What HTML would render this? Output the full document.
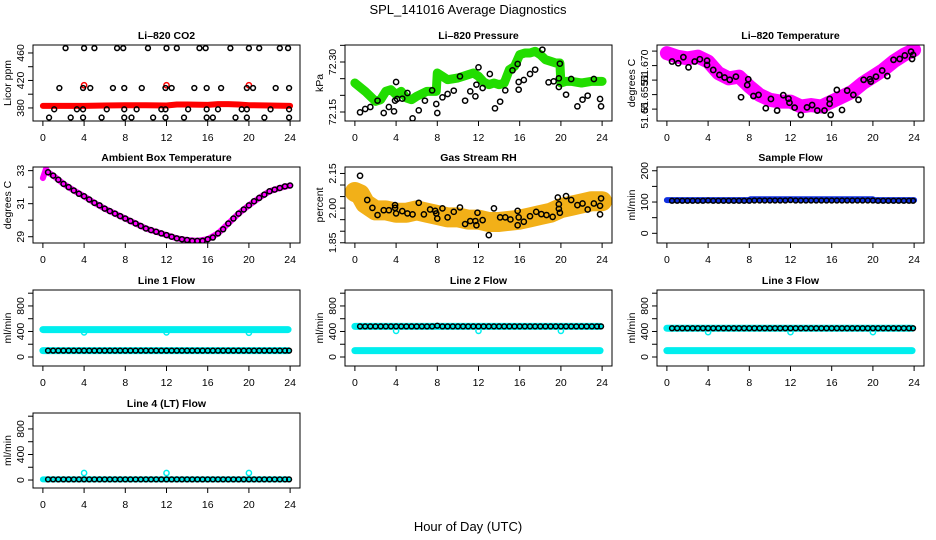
<!DOCTYPE html>
<html><head><meta charset="utf-8"><style>
html,body{margin:0;padding:0;background:#fff;}
svg{display:block;font-family:"Liberation Sans",sans-serif;}
</style></head><body>
<svg id="chart" width="936" height="540" viewBox="0 0 936 540" xmlns="http://www.w3.org/2000/svg">
<rect x="0" y="0" width="936" height="540" fill="#fff"/>
<text x="468" y="14" font-size="13" text-anchor="middle">SPL_141016  Average Diagnostics</text>
<text x="468" y="531" font-size="13" text-anchor="middle">Hour of Day (UTC)</text>
</svg>
<script>
// ---------- data ----------
const xTicks = [0,4,8,12,16,20,24];
// CO2
const co2BandHours = [0,2,4,6,8,10,12,13,14,16,17,18,19,20,22,24];
const co2BandVals  = [383,383,383,383.5,384,384,383.5,385,385,384.5,385.5,385.5,385,384,383.5,383];
const co2RedHours = [4,12,20];
const co2RedVals = [413,413,413];
const co2BlkHours = [2.2,4,5,7.2,7.8,10.2,12,13,15.2,15.8,18.2,20,21,23,23.8,
 1.6,3.9,4.6,6.8,7.9,9.6,11.9,12.5,14.7,15.9,17.3,19.8,20.4,22.6,23.9,
 1.1,3.3,3.9,6.2,7.9,9.1,11.5,11.9,14.1,15.9,17,19.3,19.8,22.1,23.9,
 0.6,2.7,3.9,5.7,7.9,8.6,10.7,11.9,13.7,15.9,16.5,18.7,19.8,21.5,23.9];
const co2BlkVals = [467,467,467,467,467,467,467,467,467,467,467,467,467,467,467,
 409,409,409,409,409,409,409,409,409,409,409,409,409,409,409,
 378,378,378,378,378,378,378,378,378,378,378,378,378,378,378,
 366,366,366,366,366,366,366,366,366,366,366,366,366,366,366];
// Pressure
const prGreenHours = [0,1,2,2.5,3,3.5,4,4.5,5,5.5,6,7,7.5,7.9,8,8.5,9,10,11,11.5,12,12.5,13,13.5,14,14.5,15,15.5,16,16.5,17,17.5,18,18.5,19,19.5,19.9,20,20.5,21,22,23,24];
const prGreenVals  = [72.237,72.212,72.182,72.187,72.212,72.217,72.202,72.212,72.192,72.187,72.197,72.212,72.212,72.212,72.267,72.257,72.247,72.252,72.262,72.267,72.257,72.240,72.232,72.237,72.232,72.237,72.277,72.287,72.322,72.327,72.327,72.332,72.322,72.307,72.302,72.297,72.297,72.237,72.242,72.242,72.237,72.242,72.242];
const prBlkHours = [0.5,1,1.5,2.2,2.8,3.3,3.8,3.9,4,4.1,4.6,5.1,5.6,6.2,6.8,7.5,7.9,8,8.5,9,9.6,10.2,10.7,11.2,11.7,11.8,12,12.4,13.1,13.6,14.1,14.6,15.3,15.8,15.9,15.9,16.4,17,17.5,18.2,18.8,19.3,19.8,19.8,19.9,20.5,21,21.6,22.1,22.6,23.2,23.8,23.9];
const prBlkVals = [72.149,72.159,72.165,72.184,72.147,72.165,72.152,72.184,72.240,72.189,72.190,72.207,72.131,72.155,72.184,72.215,72.174,72.147,72.194,72.204,72.214,72.257,72.184,72.212,72.197,72.232,72.284,72.222,72.264,72.161,72.181,72.215,72.275,72.294,72.240,72.217,72.246,72.264,72.277,72.337,72.239,72.242,72.225,72.251,72.295,72.202,72.249,72.167,72.187,72.199,72.249,72.189,72.167];
// Li-820 temperature
const ltMagHours = [0,1,2,3,4,5,6,7,8,9,10,11,12,13,14,15,16,17,18,19,20,21,22,23,24];
const ltMagVals = [51.6743,51.6731,51.6725,51.6731,51.6714,51.6674,51.6656,51.6662,51.6628,51.6599,51.6582,51.6576,51.6576,51.6559,51.6564,51.6559,51.6576,51.6593,51.6610,51.6639,51.6662,51.6685,51.6714,51.6737,51.6754];
const ltBlkHours = [0.5,1.1,1.6,2.1,2.7,3.2,3.9,3.9,4.5,5.1,5.6,6.1,6.7,7.2,7.8,7.9,8.4,8.9,9.6,10.1,10.7,11.3,11.8,11.9,12.4,13,13.6,14.1,14.6,15.3,15.8,15.8,15.9,16.5,17,17.5,18.1,18.6,19.1,19.7,19.8,20.3,20.9,21.4,22,22.6,23.1,23.7,23.8,23.9];
const ltBlkVals = [51.6714,51.6708,51.6729,51.6694,51.6714,51.6722,51.6717,51.6702,51.6685,51.6668,51.6659,51.6651,51.6662,51.6591,51.6633,51.6653,51.6595,51.6599,51.6553,51.6585,51.6545,51.6598,51.6586,51.6572,51.6555,51.6530,51.6556,51.6564,51.6545,51.6545,51.6585,51.6568,51.6530,51.6616,51.6547,51.6614,51.6599,51.6582,51.6651,51.6653,51.6645,51.6662,51.6683,51.6664,51.6720,51.6723,51.6735,51.6748,51.6723,51.6737];
const ltLabelVals = [51.6528,51.6593,51.6653,51.670];
const ltLabels = ['51.65','51.655','51','51.670'];
// Ambient box temp
const abMagHours = [0,0.3,0.5,1,2,3,4,5,6,7,8,9,10,11,12,13,14,15,16,17,18,19,20,21,22,23,24];
const abMagVals = [32.55,33.1,32.9,32.7,32.2,31.8,31.45,31.05,30.7,30.4,30.1,29.8,29.5,29.3,29.1,28.9,28.8,28.75,28.85,29.2,29.8,30.4,30.9,31.35,31.75,31.95,32.1];
const abBlkHours = [0.5,1,1.5,2,2.5,3,3.5,4,4.5,5,5.5,6,6.5,7,7.5,8,8.5,9,9.5,10,10.5,11,11.5,12,12.5,13,13.5,14,14.5,15,15.5,16,16.5,17,17.5,18,18.5,19,19.5,20,20.5,21,21.5,22,22.5,23,23.5,24];
const abBlkVals = [32.9,32.7,32.45,32.2,32.0,31.8,31.6,31.45,31.25,31.05,30.9,30.7,30.55,30.4,30.25,30.1,29.95,29.8,29.65,29.5,29.4,29.3,29.2,29.1,29.0,28.9,28.85,28.8,28.75,28.75,28.75,28.85,28.95,29.2,29.45,29.8,30.1,30.4,30.65,30.9,31.15,31.35,31.55,31.75,31.85,31.95,32.05,32.1];
// RH
const rhBandHours = [0,0.5,1,2,3,4,5,6,7,8,9,10,11,12,13,14,15,16,17,18,19,20,21,22,23,24];
const rhBandVals = [2.07,2.06,2.02,1.99,1.99,1.98,1.98,1.99,1.98,1.97,1.96,1.96,1.95,1.95,1.94,1.94,1.945,1.95,1.96,1.97,1.98,2.00,2.01,2.02,2.03,2.03];
const rhBlkHours = [0.5,1.2,1.7,2.2,2.8,3.3,3.9,3.9,4,4.6,5.1,5.6,6.2,6.7,7.3,7.8,7.9,8,8.5,9,9.6,10.2,10.7,11.2,11.7,11.8,11.9,12.4,13,13.5,14.1,14.6,15.1,15.8,15.8,15.9,16.4,17,17.6,18.1,18.6,19.2,19.7,19.8,19.8,19.9,20.5,21,21.6,22.1,22.6,23.2,23.8,23.8,23.9];
const rhBlkVals = [2.140,2.035,2.001,1.970,1.991,1.991,2.013,2.001,1.977,1.987,1.977,1.973,2.023,1.973,1.994,1.988,1.977,1.955,1.999,1.960,1.984,2.003,1.931,1.944,1.944,1.926,1.980,1.948,1.883,1.999,1.960,1.960,1.951,1.988,1.926,1.960,1.941,1.965,1.984,1.974,1.970,1.962,2.046,2.017,1.997,1.980,2.052,2.035,2.013,2.020,1.994,2.020,1.973,2.010,2.042];
// Sample flow
const sfBlueHours = [0,8,8.1,20,20.1,24];
const sfBlueVals = [106,106,109,109,106,106];
const sfBlkHours = [0.5,1,1.5,2,2.5,3,3.5,4,4.5,5,5.5,6,6.5,7,7.5,8,8.5,9,9.5,10,10.5,11,11.5,12,12.5,13,13.5,14,14.5,15,15.5,16,16.5,17,17.5,18,18.5,19,19.5,20,20.5,21,21.5,22,22.5,23,23.5,23.9];
const sfBlkVals = [104,104,104,104,104,104,104,105,104,104,104,104,104,104,104,104,105,105,105,105,105,105,105,106,105,105,105,105,105,105,105,105,105,105,105,105,105,105,105,105,104,104,104,104,104,104,104,104];
// Line flows (shared hours)
const flowCyanHours = [0,4,8,12,16,20,23.8];
const flowDipHours = [4,12,20];
const flowBlkHours = [0.5,1,1.5,2,2.5,3,3.5,4,4.5,5,5.5,6,6.5,7,7.5,8,8.5,9,9.5,10,10.5,11,11.5,12,12.5,13,13.5,14,14.5,15,15.5,16,16.5,17,17.5,18,18.5,19,19.5,20,20.5,21,21.5,22,22.5,23,23.5,23.9];
const l1CyanHi = [430,430,430,430,430,430,430];
const l1CyanLo = [100,100,100,100,100,100,100];
const l1Dip = [385,385,380];
const l1Blk = [100,100,100,100,100,100,100,100,100,100,100,100,100,100,100,100,100,100,100,100,100,100,100,100,100,100,100,100,100,100,100,100,100,100,100,100,100,100,100,100,100,100,100,100,100,100,100,100];
const l2CyanHi = [480,480,480,480,480,480,480];
const l2CyanLo = [100,100,100,100,100,100,100];
const l2Dip = [410,410,410];
const l2Blk = [480,480,480,480,480,480,480,480,480,480,480,480,480,480,480,490,480,480,480,480,480,480,480,480,480,480,480,480,480,480,480,480,480,480,480,480,480,480,480,480,480,480,480,480,480,480,480,480];
const l3CyanHi = [450,450,450,450,450,450,450];
const l3CyanLo = [100,100,100,100,100,100,100];
const l3Dip = [390,390,390];
const l3Blk = [450,450,450,450,450,450,450,450,450,450,450,450,450,450,450,450,450,450,450,450,450,450,450,450,450,450,450,450,450,450,450,450,450,450,450,450,450,450,450,450,450,450,450,450,450,450,450,450];
const l4Cyan = [10,10,10,10,10,10,10];
const l4Dip = [110,110,110];
const l4Blk = [10,10,10,10,10,10,10,10,10,10,10,10,10,10,10,10,10,10,10,10,10,10,10,10,10,10,10,10,10,10,10,10,10,10,10,10,10,10,10,10,10,10,10,10,10,10,10,10];

// ---------- drawing ----------
const NS = "http://www.w3.org/2000/svg";
const svg = document.getElementById('chart');
const cols = [[33,300],[345,612],[657,924]];
const rows = [[45,121],[167,243],[290,366],[413,488]];
function mk(tag, attrs, parent){const e=document.createElementNS(NS,tag);for(const k in attrs)e.setAttribute(k,attrs[k]);(parent||svg).appendChild(e);return e;}
let clipN=0;
function panel(name,c,r,title,ylab,ylim,yt,ylabels,labelVals){
  const [x0,x1]=cols[c],[y0,y1]=rows[r];
  const g=mk('g',{});
  
  
  const pad=(x1-x0)*0.04/1.08;
  const X=h=>x0+pad+(h/24)*(x1-x0-2*pad);
  const Y=v=>y1-(v-ylim[0])/(ylim[1]-ylim[0])*(y1-y0);
  const t=mk('text',{x:(x0+x1)/2,y:y0-6,'font-size':10.5,'font-weight':'bold','text-anchor':'middle'},g);
  t.textContent=title;
  
  
  const id='cp'+(clipN++);
  const cp=mk('clipPath',{id:id},g);mk('rect',{x:x0,y:y0,width:x1-x0,height:y1-y0},cp);
  const plot=mk('g',{'clip-path':'url(#'+id+')'},g);
  
  
  const frame=mk('rect',{x:x0,y:y0,width:x1-x0,height:y1-y0,fill:'none',stroke:'#000','stroke-width':1},g);
  
  
  const xa=mk('g',{},g);
  
  
  mk('line',{x1:X(0),x2:X(24),y1:y1,y2:y1,stroke:'#000'},xa);
  xTicks.forEach(h=>{mk('line',{x1:X(h),x2:X(h),y1:y1,y2:y1+5,stroke:'#000'},xa);
    const tt=mk('text',{x:X(h),y:y1+20,'font-size':10.5,'text-anchor':'middle'},xa);tt.textContent=h;});
  const ya=mk('g',{},g);
  
  
  mk('line',{x1:x0,x2:x0,y1:Y(yt[0]),y2:Y(yt[yt.length-1]),stroke:'#000'},ya);
  yt.forEach(v=>{mk('line',{x1:x0-5,x2:x0,y1:Y(v),y2:Y(v),stroke:'#000'},ya);});
  const lv = labelVals || yt;
  lv.forEach((v,i)=>{
    if(ylabels[i]){const tt=mk('text',{x:0,y:0,'font-size':10.5,'text-anchor':'middle',transform:`translate(${x0-9},${Y(v)}) rotate(-90)`},ya);tt.textContent=ylabels[i];}});
  const yl=mk('text',{x:0,y:0,'font-size':10.5,'text-anchor':'middle',transform:`translate(${x0-22},${(y0+y1)/2}) rotate(-90)`},g);
  yl.textContent=ylab;
  
  
  return {X,Y,plot,name};
}
function pts(p,hs,vs,color,r,sw,nm){
  const g=mk('g',{},p.plot);
  
  
  hs.forEach((h,i)=>{const c=mk('circle',{cx:p.X(h),cy:p.Y(vs[i]),r:r,fill:'none',stroke:color,'stroke-width':sw},g);
    
    });
}
function band(p,hs,vs,color,w,nm){
  const l=mk('polyline',{points:hs.map((h,i)=>p.X(h)+','+p.Y(vs[i])).join(' '),fill:'none',stroke:color,'stroke-width':w,'stroke-linejoin':'round','stroke-linecap':'round'},p.plot);
  
  
}
const flowTicks=[0,200,400,600,800,1000], flowLabels=['0','','400','','800',''];

let p=panel('co2',0,0,'Li\u2013820 CO2','Licor ppm',[361,471.6],[380,400,420,440,460],['380','','420','','460']);
band(p,co2BandHours,co2BandVals,'#ff0000',6,'red-band');
pts(p,co2RedHours,co2RedVals,'#ff0000',2.6,1.5,'red-points');
pts(p,co2BlkHours,co2BlkVals,'#000',2.4,1.5,'black-points');

p=panel('pressure',1,0,'Li\u2013820 Pressure','kPa',[72.123,72.351],[72.15,72.2,72.25,72.3,72.35],['72.15','','','72.30','']);
band(p,prGreenHours,prGreenVals,'#22dd00',9,'green-band');
pts(p,prBlkHours,prBlkVals,'#000',2.6,1.5,'black-points');

p=panel('li-temp',2,0,'Li\u2013820 Temperature','degrees C',[51.6509,51.6771],[51.655,51.66,51.665,51.67,51.675],ltLabels,ltLabelVals);
band(p,ltMagHours,ltMagVals,'#ff00ff',14,'magenta-band');
pts(p,ltBlkHours,ltBlkVals,'#000',2.6,1.6,'black-points');

p=panel('ambient',0,1,'Ambient Box Temperature','degrees C',[28.62,33.22],[29,30,31,32,33],['29','','31','','33']);
band(p,abMagHours,abMagVals,'#ff00ff',6,'magenta-line');
pts(p,abBlkHours,abBlkVals,'#000',2.5,1.5,'black-points');

p=panel('rh',1,1,'Gas Stream RH','percent',[1.849,2.178],[1.85,1.9,1.95,2.0,2.05,2.1,2.15],['1.85','','','2.00','','','2.15']);
band(p,rhBandHours,rhBandVals,'#f2b018',20,'orange-band');
pts(p,rhBlkHours,rhBlkVals,'#000',2.6,1.5,'black-points');

p=panel('sample-flow',2,1,'Sample Flow','ml/min',[-31,212],[0,50,100,150,200],['0','','100','','200']);
band(p,sfBlueHours,sfBlueVals,'#1030e0',6,'blue-band');
pts(p,sfBlkHours,sfBlkVals,'#000',2.4,1.5,'black-points');

p=panel('line1-flow',0,2,'Line 1 Flow','ml/min',[-141,1050],flowTicks,flowLabels);
band(p,flowCyanHours,l1CyanHi,'#00eeee',7,'cyan-high');
band(p,flowCyanHours,l1CyanLo,'#00eeee',7,'cyan-low');
pts(p,flowDipHours,l1Dip,'#00eeee',2.6,1.5,'cyan-dips');
pts(p,flowBlkHours,l1Blk,'#000',2.4,1.5,'black-points');

p=panel('line2-flow',1,2,'Line 2 Flow','ml/min',[-141,1050],flowTicks,flowLabels);
band(p,flowCyanHours,l2CyanHi,'#00eeee',7,'cyan-high');
band(p,flowCyanHours,l2CyanLo,'#00eeee',7,'cyan-low');
pts(p,flowDipHours,l2Dip,'#00eeee',2.6,1.5,'cyan-dips');
pts(p,flowBlkHours,l2Blk,'#000',2.4,1.5,'black-points');

p=panel('line3-flow',2,2,'Line 3 Flow','ml/min',[-141,1050],flowTicks,flowLabels);
band(p,flowCyanHours,l3CyanHi,'#00eeee',7,'cyan-high');
band(p,flowCyanHours,l3CyanLo,'#00eeee',7,'cyan-low');
pts(p,flowDipHours,l3Dip,'#00eeee',2.6,1.5,'cyan-dips');
pts(p,flowBlkHours,l3Blk,'#000',2.4,1.5,'black-points');

p=panel('line4-flow',0,3,'Line 4 (LT) Flow','ml/min',[-125,1050],flowTicks,flowLabels);
band(p,flowCyanHours,l4Cyan,'#00eeee',6,'cyan-line');
pts(p,flowDipHours,l4Dip,'#00eeee',2.6,1.5,'cyan-dips');
pts(p,flowBlkHours,l4Blk,'#000',2.4,1.5,'black-points');
</script>
</body></html>
